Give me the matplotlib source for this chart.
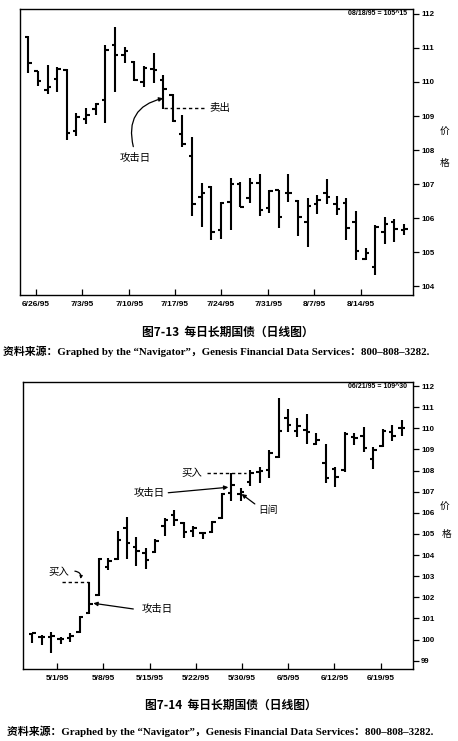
import numpy as np
import matplotlib
matplotlib.use("Agg")
import matplotlib.pyplot as plt

plt.rcParams['font.family'] = ['Liberation Sans Narrow', 'Liberation Sans', 'DejaVu Sans']
CJK = ['Noto Sans CJK SC', 'DejaVu Sans']
SRC = ['Liberation Serif', 'Noto Sans CJK SC', 'DejaVu Sans']

# ---------------- data: Fig 7-13 (6/23/95 - 8/18/95) ----------------
top_high = [111.35, 110.33, 110.49, 110.45, 110.37, 109.10, 109.23, 109.39, 111.09, 111.63,
            111.04, 110.62, 110.47, 110.84, 110.21, 109.64, 109.03, 108.39, 107.02, 106.94,
            106.48, 107.17, 107.07, 107.17, 107.31, 106.84, 106.84, 107.29, 106.53, 106.58,
            106.68, 107.14, 106.65, 106.58, 106.22, 105.11, 105.79, 106.04, 105.96, 105.82]
top_low = [110.25, 109.88, 109.65, 109.72, 108.29, 108.41, 108.76, 109.03, 108.80, 109.72,
           110.57, 110.03, 109.84, 109.98, 109.20, 108.83, 108.10, 106.06, 105.73, 105.35,
           105.40, 105.65, 106.33, 106.43, 106.06, 106.16, 105.70, 106.48, 105.47, 105.16,
           106.12, 106.41, 106.09, 105.37, 104.76, 104.76, 104.32, 105.25, 105.30, 105.50]
top_open = [111.33, 110.33, 109.76, 110.08, 110.35, 108.57, 108.90, 109.20, 109.47, 111.09,
            110.79, 110.60, 110.01, 110.38, 110.06, 109.62, 108.47, 107.82, 106.63, 106.92,
            105.65, 106.46, 106.99, 106.58, 107.02, 106.31, 106.82, 106.73, 106.51, 105.89,
            106.41, 106.75, 106.41, 106.43, 105.89, 104.81, 104.57, 105.60, 105.89, 105.65]
top_close = [110.55, 110.04, 109.84, 110.38, 108.51, 108.98, 109.03, 109.35, 110.94, 110.79,
             110.92, 110.06, 110.40, 110.35, 109.78, 108.86, 108.18, 106.41, 106.73, 105.60,
             106.45, 106.99, 106.33, 107.02, 106.24, 106.80, 106.04, 106.75, 106.04, 106.35,
             106.53, 106.61, 106.28, 105.70, 105.03, 104.96, 105.75, 105.82, 105.67, 105.67]
top_tick_pos = [0.8, 5.6, 10.5, 15.2, 20.0, 24.9, 29.7, 34.5]
top_tick_labels = ['6/26/95', '7/3/95', '7/10/95', '7/17/95', '7/24/95', '7/31/95', '8/7/95', '8/14/95']
top_yticks = [104, 105, 106, 107, 108, 109, 110, 111, 112]
top_note = '08/18/95 = 105^15'
top_attack = 14          # index of attack day
top_sell = 109.24        # sell level

# ---------------- data: Fig 7-14 (4/26/95 - 6/21/95) ----------------
bot_high = [100.33, 100.22, 100.38, 100.14, 100.33, 101.12, 102.73, 103.85, 103.85, 105.15,
            105.79, 104.84, 104.32, 104.74, 105.74, 106.13, 105.58, 105.38, 105.11, 105.63,
            106.92, 107.87, 107.16, 108.03, 108.18, 108.97, 111.42, 110.90, 110.47, 110.68,
            109.79, 109.26, 108.15, 109.84, 109.79, 110.04, 109.10, 109.95, 110.15, 110.39]
bot_low = [99.86, 99.74, 99.38, 99.79, 99.90, 100.30, 101.21, 102.06, 103.29, 103.77,
           103.80, 103.48, 103.32, 104.08, 104.90, 105.38, 104.79, 104.87, 104.74, 105.03,
           105.69, 106.56, 106.57, 107.27, 107.43, 107.63, 108.58, 109.84, 109.60, 109.26,
           109.21, 107.39, 107.21, 107.95, 109.21, 108.89, 108.06, 109.10, 109.41, 109.63]
bot_open = [100.27, 100.14, 100.11, 100.01, 100.06, 100.38, 101.27, 102.11, 103.45, 103.80,
            105.27, 104.37, 104.08, 104.16, 105.38, 105.90, 105.50, 105.15, 105.03, 105.11,
            105.74, 106.92, 106.89, 107.47, 107.95, 108.03, 108.62, 110.47, 109.87, 109.92,
            109.26, 108.34, 108.07, 108.03, 109.60, 109.65, 108.53, 109.16, 109.84, 110.00]
bot_close = [100.30, 100.14, 100.17, 100.04, 100.19, 101.09, 101.67, 103.80, 103.74, 104.71,
             104.59, 104.21, 103.77, 104.68, 105.66, 105.66, 105.11, 105.27, 105.03, 105.58,
             106.89, 107.32, 107.00, 107.87, 107.99, 108.81, 109.89, 110.15, 110.11, 109.84,
             109.44, 107.63, 107.71, 109.73, 109.52, 109.05, 108.97, 109.87, 109.65, 110.00]
bot_tick_pos = [2.64, 7.5, 12.43, 17.25, 22.1, 27.0, 31.9, 36.8]
bot_tick_labels = ['5/1/95', '5/8/95', '5/15/95', '5/22/95', '5/30/95', '6/5/95', '6/12/95', '6/19/95']
bot_yticks = list(range(99, 113))
bot_note = '06/21/95 = 109^30'
bot_attack1 = 6     # first attack day
bot_attack2 = 21    # second attack day
bot_inside = 22     # inside day

cap1 = '图7-13  每日长期国债（日线图）'
cap2 = '图7-14  每日长期国债（日线图）'
source = '资料来源：Graphed by the “Navigator”，Genesis Financial Data Services：800–808–3282.'

# ---------------- figure ----------------
W, H = 458, 741
fig = plt.figure(figsize=(W / 100, H / 100), dpi=100)
fig.patch.set_facecolor('white')


def fx(px):
    return px / W


def fy(py):
    return 1 - py / H


def draw_ohlc(ax, o, h, l, c, tick=0.36, lw=1.5):
    x = np.arange(len(o))
    ax.vlines(x, l, h, color='k', lw=lw)
    ax.hlines(o, x - tick, x, color='k', lw=lw)
    ax.hlines(c, x, x + tick, color='k', lw=lw)


def style(ax, xlim, ylim, yticks, xpos, xlabels):
    ax.set_xlim(*xlim)
    ax.set_ylim(*ylim)
    ax.yaxis.tick_right()
    ax.set_yticks(yticks)
    ax.set_yticklabels([str(v) for v in yticks])
    ax.tick_params(axis='y', direction='out', length=4, width=0.9, pad=2, labelsize=5.7)
    ax.set_xticks(xpos)
    ax.set_xticklabels(xlabels)
    ax.tick_params(axis='x', direction='in', length=4.5, width=0.9, pad=4, labelsize=6)
    for lab in ax.get_xticklabels() + ax.get_yticklabels():
        lab.set_fontweight('bold')
    for s in ax.spines.values():
        s.set_linewidth(1.0)


arrow = dict(arrowstyle='-|>', lw=0.9, color='k', mutation_scale=6, shrinkA=0, shrinkB=0)
dash = (0, (2.4, 2.0))
ann = dict(family=CJK, fontweight='medium')

# ---- top chart ----
ax1 = fig.add_axes([fx(20), fy(295), fx(393), 286.5 / H])
draw_ohlc(ax1, top_open, top_high, top_low, top_close)
style(ax1, (-0.86, 39.93), (103.74, 112.16), top_yticks, top_tick_pos, top_tick_labels)
ax1.text(0.985, 0.981, top_note, transform=ax1.transAxes, ha='right', va='center',
         fontsize=5, fontweight='bold')
ax1.plot([top_attack + 0.1, top_attack + 4.3], [top_sell, top_sell], color='k', lw=1.0, ls=dash)
ax1.text(top_attack + 4.75, top_sell, '卖出', fontsize=7.5, ha='left', va='center', **ann)
ax1.text(top_attack - 2.9, 107.76, '攻击日', fontsize=7.5, ha='center', va='center', **ann)
ax1.annotate('', xy=(top_attack, 109.52), xytext=(top_attack - 3.1, 108.10),
             arrowprops=dict(arrow, connectionstyle='arc3,rad=-0.5'))
fig.text(fx(444), fy(132), '价', fontsize=7, ha='center', va='center', **ann)
fig.text(fx(445), fy(163), '格', fontsize=7, ha='center', va='center', **ann)
fig.text(fx(227.5), fy(332), cap1, family=CJK, fontweight='bold', fontsize=8.5,
         ha='center', va='center')
fig.text(fx(3), fy(351), source, family=SRC, fontsize=7.85, fontweight='bold', ha='left', va='center')

# ---- bottom chart ----
ax2 = fig.add_axes([fx(22.7), fy(669), fx(390), 287 / H])
draw_ohlc(ax2, bot_open, bot_high, bot_low, bot_close, tick=0.37)
style(ax2, (-1.01, 40.17), (98.61, 112.19), bot_yticks, bot_tick_pos, bot_tick_labels)
ax2.text(0.985, 0.985, bot_note, transform=ax2.transAxes, ha='right', va='center',
         fontsize=5, fontweight='bold')
# lower buy
b1 = bot_high[bot_attack1]
ax2.plot([bot_attack1 - 2.9, bot_attack1 - 0.05], [b1, b1], color='k', lw=1.0, ls=dash)
ax2.text(bot_attack1 - 3.2, 103.21, '买入', fontsize=7.5, ha='center', va='center', **ann)
ax2.annotate('', xy=(bot_attack1 - 0.9, 102.87), xytext=(bot_attack1 - 1.5, 103.24),
             arrowprops=dict(arrow, mutation_scale=4, connectionstyle='arc3,rad=-0.5'))
ax2.text(bot_attack1 + 7.2, 101.43, '攻击日', fontsize=7.5, ha='center', va='center', **ann)
ax2.annotate('', xy=(bot_attack1 + 0.45, 101.72), xytext=(bot_attack1 + 4.67, 101.45),
             arrowprops=arrow)
# upper buy
b2 = bot_high[bot_attack2]
ax2.plot([bot_attack2 - 2.5, bot_attack2 + 1.6], [b2, b2], color='k', lw=1.0, ls=dash)
ax2.text(bot_attack2 - 4.1, 107.90, '买入', fontsize=7.5, ha='center', va='center', **ann)
ax2.text(bot_attack2 - 8.7, 106.95, '攻击日', fontsize=7.5, ha='center', va='center', **ann)
ax2.annotate('', xy=(bot_attack2 - 0.3, 107.21), xytext=(bot_attack2 - 6.64, 106.95),
             arrowprops=arrow)
ax2.text(bot_inside + 1.87, 106.13, '日间', fontsize=7, ha='left', va='center', **ann)
ax2.annotate('', xy=(bot_inside + 0.1, 106.89), xytext=(bot_inside + 1.5, 106.42),
             arrowprops=arrow)
fig.text(fx(445), fy(507), '价', fontsize=7, ha='center', va='center', **ann)
fig.text(fx(446.5), fy(534), '格', fontsize=7, ha='center', va='center', **ann)
fig.text(fx(231), fy(705), cap2, family=CJK, fontweight='bold', fontsize=8.5,
         ha='center', va='center')
fig.text(fx(7), fy(731), source, family=SRC, fontsize=7.85, fontweight='bold', ha='left', va='center')

fig.savefig('out.png', dpi=100, facecolor='white')
